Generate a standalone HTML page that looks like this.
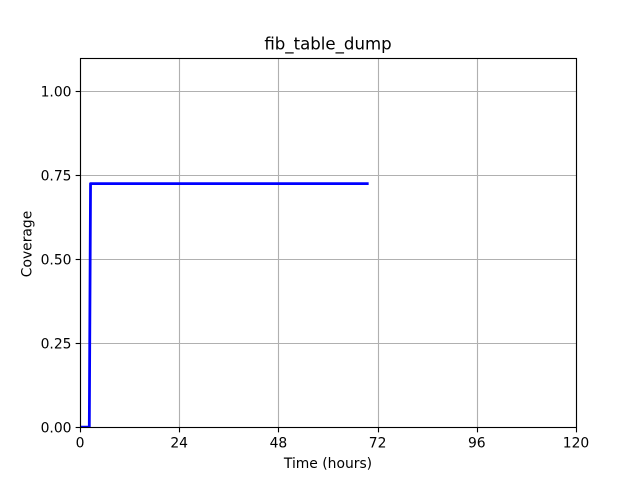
<!DOCTYPE html>
<html lang="en">
<head>
<meta charset="utf-8">
<title>fib_table_dump</title>
<style>
html,body{margin:0;padding:0;background:#fff;width:640px;height:480px;overflow:hidden}
svg{display:block}
text{font-family:"DejaVu Sans",sans-serif;fill:#000}
</style>
</head>
<body>
<svg id="chart" xmlns="http://www.w3.org/2000/svg" width="640" height="480" viewBox="0 0 640 480"></svg>
<script>
const xTicks = [0, 24, 48, 72, 96, 120];
const yTicks = [0, 0.25, 0.5, 0.75, 1];
const yTickLabels = ['0.00', '0.25', '0.50', '0.75', '1.00'];
const timeHours = [0, 2.25, 2.55, 69.5];
const coverage = [0, 0, 0.725, 0.725];
const xDomain = [0, 120];
const yDomain = [0, 1.1];

const svg = document.getElementById('chart');
const NS = 'http://www.w3.org/2000/svg';
const left = 80, right = 576, top_ = 57.6, bottom = 427.2;
const sx = v => left + (v - xDomain[0]) / (xDomain[1] - xDomain[0]) * (right - left);
const sy = v => bottom - (v - yDomain[0]) / (yDomain[1] - yDomain[0]) * (bottom - top_);
const snap = v => Math.floor(v + 0.5) + 0.5;
const fl = snap(left), fr = snap(right), ft = snap(top_), fb = snap(bottom);

function make(tag, attrs, parent) {
  const el = document.createElementNS(NS, tag);
  for (const k in attrs) el.setAttribute(k, attrs[k]);
  (parent || svg).appendChild(el);
  return el;
}

const defs = make('defs', {});
const clip = make('clipPath', {id: 'plot-clip'}, defs);
make('rect', {x: left, y: top_, width: right - left, height: bottom - top_}, clip);

xTicks.forEach(t => {
  const x = snap(sx(t));
  const grid = make('line', {x1: x, x2: x, y1: ft, y2: fb, stroke: '#b0b0b0', 'stroke-width': 1.11});
  
  
});
yTicks.forEach(t => {
  const y = snap(sy(t));
  const grid = make('line', {x1: fl, x2: fr, y1: y, y2: y, stroke: '#b0b0b0', 'stroke-width': 1.11});
  
  
});

const series = make('polyline', {
  points: timeHours.map((t, i) => sx(t) + ',' + sy(coverage[i])).join(' '),
  fill: 'none', stroke: '#0000ff', 'stroke-width': 2.78,
  'stroke-linejoin': 'round', 'stroke-linecap': 'square', 'clip-path': 'url(#plot-clip)'
});



const frame = make('rect', {x: fl, y: ft, width: fr - fl, height: fb - ft, fill: 'none', stroke: '#000', 'stroke-width': 1.11});



xTicks.forEach(t => {
  const x = snap(sx(t));
  const tick = make('line', {x1: x, x2: x, y1: fb, y2: fb + 4.86, stroke: '#000', 'stroke-width': 1.11});
  
  
  const label = make('text', {x: sx(t), y: 447.5, 'text-anchor': 'middle', 'font-size': 13.89});
  label.textContent = String(t);
  
  
});
yTicks.forEach((t, i) => {
  const y = snap(sy(t));
  const tick = make('line', {x1: fl - 4.86, x2: fl, y1: y, y2: y, stroke: '#000', 'stroke-width': 1.11});
  
  
  const label = make('text', {x: 71.5, y: sy(t) + 5.3, 'text-anchor': 'end', 'font-size': 13.89});
  label.textContent = yTickLabels[i];
  
  
});

const title = make('text', {x: 328, y: 49.5, 'text-anchor': 'middle', 'font-size': 16.6});
title.textContent = 'fib_table_dump';



const xTitle = make('text', {x: 328, y: 468, 'text-anchor': 'middle', 'font-size': 13.89});
xTitle.textContent = 'Time (hours)';



const yTitle = make('text', {x: 0, y: 0, 'text-anchor': 'middle', 'font-size': 13.89, transform: 'translate(31.5,244) rotate(-90)'});
yTitle.textContent = 'Coverage';


</script>
</body>
</html>
